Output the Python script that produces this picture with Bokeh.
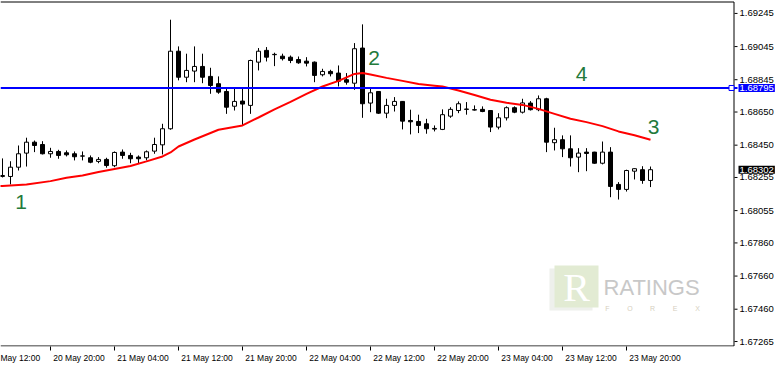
from bokeh.plotting import figure
from bokeh.models import FixedTicker, Label, Range1d, ColumnDataSource, BoxAnnotation
from bokeh.core.properties import value
from bokeh.embed import file_html
from bokeh.resources import INLINE

# ---- data: hourly candles, index 0 = 20 May 14:00 ----
candle_idx = list(range(82))
opens = [1.68261,1.68261,1.68317,1.68402,1.68468,1.68454,1.68398,1.68412,1.68404,1.68398,
         1.68384,1.68374,1.68352,1.68364,1.68326,1.68408,1.68388,1.68378,1.68374,1.68414,
         1.68452,1.68549,1.69017,1.68860,1.68897,1.68925,1.68865,1.68821,1.68774,1.68685,
         1.68716,1.68690,1.68951,1.69022,1.68996,1.68987,1.68981,1.68967,1.68957,1.68951,
         1.68875,1.68895,1.68885,1.68845,1.68824,1.69036,1.68704,1.68774,1.68643,1.68690,
         1.68714,1.68599,1.68593,1.68579,1.68551,1.68545,1.68625,1.68659,1.68668,1.68664,
         1.68666,1.68659,1.68559,1.68615,1.68676,1.68649,1.68704,1.68664,1.68730,1.68465,
         1.68483,1.68428,1.68378,1.68408,1.68408,1.68341,1.68408,1.68213,1.68183,1.68293,
         1.68302,1.68237]
highs = [1.68370,1.68353,1.68448,1.68495,1.68478,1.68474,1.68434,1.68422,1.68418,1.68412,
         1.68412,1.68388,1.68378,1.68374,1.68412,1.68424,1.68404,1.68388,1.68418,1.68495,
         1.68579,1.69207,1.69046,1.69002,1.69046,1.69002,1.68917,1.68865,1.68800,1.68797,
         1.68797,1.68966,1.69036,1.69042,1.69008,1.69002,1.68991,1.68985,1.68981,1.68955,
         1.68911,1.68905,1.68931,1.68885,1.69066,1.69179,1.68790,1.68776,1.68730,1.68740,
         1.68716,1.68664,1.68634,1.68609,1.68569,1.68666,1.68679,1.68714,1.68710,1.68690,
         1.68684,1.68661,1.68643,1.68684,1.68684,1.68730,1.68716,1.68750,1.68736,1.68555,
         1.68509,1.68509,1.68432,1.68432,1.68410,1.68472,1.68438,1.68227,1.68302,1.68310,
         1.68323,1.68321]
lows = [1.68255,1.68213,1.68297,1.68321,1.68408,1.68394,1.68374,1.68368,1.68382,1.68358,
        1.68358,1.68341,1.68341,1.68314,1.68317,1.68368,1.68341,1.68341,1.68358,1.68398,
        1.68394,1.68543,1.68841,1.68830,1.68830,1.68824,1.68760,1.68760,1.68639,1.68659,
        1.68569,1.68639,1.68901,1.68955,1.68927,1.68961,1.68945,1.68941,1.68925,1.68830,
        1.68865,1.68865,1.68804,1.68815,1.68784,1.68615,1.68649,1.68639,1.68613,1.68653,
        1.68545,1.68515,1.68523,1.68519,1.68533,1.68541,1.68615,1.68643,1.68634,1.68659,
        1.68649,1.68529,1.68545,1.68599,1.68643,1.68641,1.68659,1.68655,1.68408,1.68418,
        1.68378,1.68321,1.68287,1.68293,1.68338,1.68334,1.68136,1.68122,1.68170,1.68243,
        1.68217,1.68197]
closes = [1.68267,1.68317,1.68398,1.68468,1.68448,1.68398,1.68412,1.68388,1.68392,1.68380,
          1.68385,1.68347,1.68364,1.68327,1.68406,1.68388,1.68368,1.68368,1.68410,1.68454,
          1.68549,1.69017,1.68860,1.68901,1.68925,1.68860,1.68810,1.68770,1.68679,1.68714,
          1.68698,1.68961,1.69017,1.68981,1.68998,1.68972,1.68961,1.68947,1.68945,1.68871,
          1.68895,1.68881,1.68836,1.68830,1.69032,1.68700,1.68766,1.68643,1.68690,1.68714,
          1.68595,1.68591,1.68569,1.68549,1.68547,1.68634,1.68666,1.68700,1.68666,1.68662,
          1.68653,1.68559,1.68615,1.68676,1.68649,1.68705,1.68664,1.68730,1.68468,1.68483,
          1.68428,1.68374,1.68402,1.68400,1.68341,1.68408,1.68201,1.68183,1.68297,1.68308,
          1.68237,1.68302]

ma_idx = [-1,0,3,6,8,10,12,14,16,18,20,21,22,24,27,30,31,32,34,36,
          38,40,42,43,44,45,46,48,50,52,54,55,57,59,61,63,65,67,69,71,
          73,75,77,79,81]
ma_val = [1.68201,1.68204,1.68213,1.68233,1.68253,1.68267,1.68288,1.68306,1.68324,1.68352,
          1.68382,1.68406,1.68442,1.68484,1.68543,1.68569,1.68593,1.68617,1.68666,1.68711,
          1.68759,1.68804,1.68838,1.68859,1.68880,1.68885,1.68877,1.68856,1.68838,1.68819,
          1.68809,1.68804,1.68780,1.68753,1.68724,1.68706,1.68693,1.68669,1.68639,1.68609,
          1.68589,1.68565,1.68533,1.68510,1.68483]

time_tick_idx = [-2, 6, 14, 22, 30, 38, 46, 54, 62, 70, 78]
time_tick_labels = ["May 12:00", "20 May 20:00", "21 May 04:00", "21 May 12:00",
                    "21 May 20:00", "22 May 04:00", "22 May 12:00", "22 May 20:00",
                    "23 May 04:00", "23 May 12:00", "23 May 20:00"]
price_ticks = [1.69245, 1.69045, 1.68845, 1.68650, 1.68450, 1.68255,
               1.68055, 1.67860, 1.67660, 1.67460, 1.67265]
level_price = 1.68795
last_price = 1.68302
marks = ["1", "2", "3", "4"]

# ---- layout (pixel helpers used only for decorations) ----
FRAME_W, FRAME_H = 775, 346
x_lo, x_hi = -0.25, 96.625
y_lo, y_hi = 1.67235, 1.69323

def dx(px):
    return x_lo + px / FRAME_W * (x_hi - x_lo)

def dy(py):
    return y_hi - py / FRAME_H * (y_hi - y_lo)

p = figure(frame_width=FRAME_W, frame_height=FRAME_H,
           x_range=Range1d(x_lo, x_hi), y_range=Range1d(y_lo, y_hi),
           output_backend="svg", toolbar_location=None,
           y_axis_location=None,
           min_border_left=0, min_border_right=0, min_border_top=0, min_border_bottom=19)
p.background_fill_color = "white"
p.border_fill_color = "white"
p.outline_line_color = None
p.xgrid.visible = False
p.ygrid.visible = False

# chart border (top, bottom, right) and price-scale ticks
AX = dx(733.5)
p.segment(x0=[x_lo, x_lo, AX], y0=[dy(1.5), dy(345.5), dy(1.5)],
          x1=[AX, AX, AX], y1=[dy(1.5), dy(345.5), dy(345.5)],
          line_color="black", line_width=1)
p.segment(x0=[dx(734)] * len(price_ticks), y0=price_ticks,
          x1=[dx(737)] * len(price_ticks), y1=price_ticks, line_color="black", line_width=1)
p.text(x=[dx(739)] * len(price_ticks), y=price_ticks, text=[f"{v:.5f}" for v in price_ticks],
       text_align="left", text_baseline="middle", text_color="black",
       text_font=value("Liberation Sans"), text_font_size="9.5px")

# candles
colors = ["white" if c >= o else "black" for o, c in zip(opens, closes)]
src = ColumnDataSource(dict(x=candle_idx, o=opens, h=highs, l=lows, c=closes,
                            top=[max(o, c) for o, c in zip(opens, closes)],
                            bot=[min(o, c) for o, c in zip(opens, closes)],
                            fill=colors))
p.segment(x0="x", y0="l", x1="x", y1="h", source=src, line_color="black", line_width=1)
p.vbar(x="x", top="top", bottom="bot", width=0.5, source=src,
       fill_color="fill", line_color="black", line_width=1)

# moving average
p.line(ma_idx, ma_val, line_color="#ff0000", line_width=2)

# horizontal level line with its handle
p.segment(x0=[x_lo], y0=[level_price], x1=[dx(737)], y1=[level_price],
          line_color="#0000ff", line_width=2)
p.scatter([dx(731)], [level_price], marker="square", size=5,
          fill_color="white", line_color="#0000ff", line_width=1)

# x axis: labels begin at their tick mark
off = 3.5625
p.xaxis.ticker = FixedTicker(ticks=[t + off for t in time_tick_idx], minor_ticks=time_tick_idx)
p.xaxis.major_label_overrides = {t + off: lab for t, lab in zip(time_tick_idx, time_tick_labels)}
p.xaxis.major_tick_line_color = None
p.xaxis.major_tick_out = 0
p.xaxis.major_tick_in = 0
p.xaxis.minor_tick_out = 4
p.xaxis.minor_tick_in = 0
p.xaxis.minor_tick_line_color = "black"
p.xaxis.major_label_standoff = 2
p.xaxis.major_label_text_font = "Liberation Sans"
p.xaxis.major_label_text_font_size = "8.5px"
p.xaxis.major_label_text_color = "black"
p.xaxis.axis_line_color = None

# price boxes on the scale
p.add_layout(Label(x=dx(738), y=level_price, text=f"{level_price:.5f}", text_align="left",
                   text_baseline="middle", text_color="white", text_font="Liberation Sans",
                   text_font_size="9.5px", background_fill_color="#0000ff", padding=1))
p.add_layout(Label(x=dx(738), y=last_price, text=f"{last_price:.5f}", text_align="left",
                   text_baseline="middle", text_color="white", text_font="Liberation Sans",
                   text_font_size="9.5px", background_fill_color="black", padding=1))

# numbered annotations
mark_px = [(20.5, 201.5), (373.5, 57), (653, 126), (581, 73)]
for m, (mx, my) in zip(marks, mark_px):
    p.add_layout(Label(x=dx(mx), y=dy(my), text=m, text_align="center", text_baseline="middle",
                       text_color="#237a3b", text_font="Liberation Sans", text_font_size="21px"))

# watermark
p.add_layout(BoxAnnotation(left=dx(549), right=dx(592), top=dy(268), bottom=dy(310),
                           fill_color="#eef0ec", fill_alpha=1, line_color=None))
p.add_layout(BoxAnnotation(left=dx(554), right=dx(598), top=dy(265), bottom=dy(307),
                           fill_color="#e2ebd3", fill_alpha=1, line_color=None))
p.add_layout(Label(x=dx(576), y=dy(287), text="R", text_align="center", text_baseline="middle",
                   text_color="white", text_font="Liberation Serif", text_font_size="40px"))
p.add_layout(Label(x=dx(603), y=dy(299), text="RATINGS", text_align="left", text_baseline="bottom",
                   text_color="#c8c8c8", text_font="Liberation Sans", text_font_size="22px"))
for k, ch in enumerate("FOREX"):
    p.add_layout(Label(x=dx(607 + k * 22.5), y=dy(307.5), text=ch, text_align="center",
                       text_baseline="middle", text_color="#d6cfc0", text_font="Liberation Sans",
                       text_font_size="7px"))

open("out.html", "w").write(file_html(p, INLINE))
